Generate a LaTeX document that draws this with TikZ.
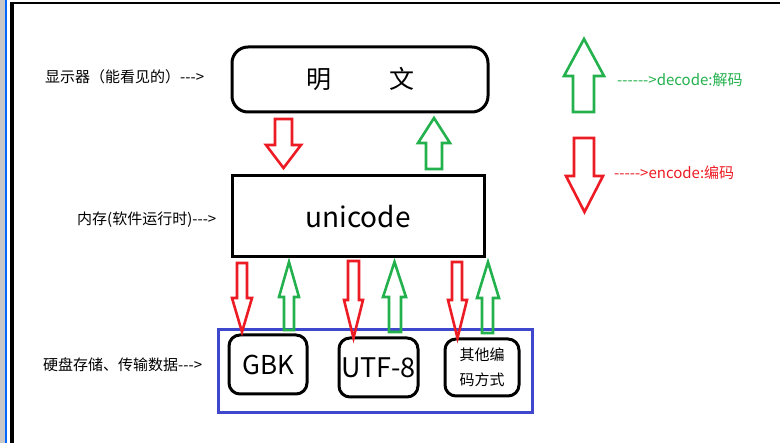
\documentclass[tikz,border=0pt]{standalone}
\usepackage{fontspec}
\setmainfont{Noto Sans CJK SC}
\usepackage{tikz}

\definecolor{pred}{RGB}{237,28,36}
\definecolor{pgreen}{RGB}{34,177,76}
\definecolor{pblue}{RGB}{63,72,204}

% hollow block arrow: style, shaft left/right, head left/right, tail y, head base y, tip y
\newcommand{\barrow}[8]{\draw[#1] (#2,#6) -- (#2,#7) -- (#4,#7) -- ({(#4+#5)/2},#8) -- (#5,#7) -- (#3,#7) -- (#3,#6) -- cycle;}
% plain hyphens, no TeX dash ligatures
\newcommand{\tothe}{-{}-{}-{}>}

\tikzset{
  enc/.style={pred,line width=2.6pt},
  dec/.style={pgreen,line width=2.6pt},
  lbl/.style={anchor=west,inner sep=0pt,font=\fontsize{15}{17}\selectfont},
  codebox/.style={draw,line width=3pt,rounded corners=11pt,inner sep=0pt}
}

\begin{document}
\begin{tikzpicture}[x=1pt,y=-1pt]
\useasboundingbox (0,0) rectangle (780,443);
\fill[white] (0,0) rectangle (780,443);

% window edge
\fill[black!22] (0,0) rectangle (5,443);
\fill[blue!60!cyan] (5,0) rectangle (6.5,443);
\fill (10,2) rectangle (14,443);
\fill (10,2) rectangle (780,4.5);

% layers
\node[draw,line width=3pt,rounded corners=16pt,minimum width=256pt,minimum height=65pt,
  font=\fontsize{25}{28}\selectfont] (display) at (360,79.5) {明\hspace{58pt}文\hspace{34pt}};
\node[draw,line width=3pt,minimum width=252pt,minimum height=81pt,
  font=\fontsize{28}{32}\selectfont] (mem) at (358,216.5) {unicode\hspace{8pt}};
\node[draw=pblue,line width=3pt,minimum width=314pt,minimum height=83pt] (disk) at (375,371.5) {};

\node[codebox,minimum width=78pt,minimum height=59pt,font=\fontsize{26}{30}\selectfont] (gbk) at (268,364.5) {GBK};
\node[codebox,minimum width=79pt,minimum height=59pt,font=\fontsize{27}{30}\selectfont] (utf) at (378.5,367.5) {UTF-8};
\node[codebox,minimum width=74pt,minimum height=57pt,align=center,
  font=\fontsize{15}{25}\selectfont] (other) at (482,367.5) {其他编\\码方式};

% side labels
\node[lbl] (lshow) at (45,77) {显示器（能看见的）\tothe};
\node[lbl] (lmem) at (77,220) {内存(软件运行时)\tothe};
\node[lbl] (ldisk) at (43,365) {硬盘存储、传输数据\tothe};

% legend
\barrow{dec}{573}{594}{564}{604}{112}{76}{39}
\barrow{enc}{574}{594}{566}{603}{138}{176}{212}
\node[lbl,pgreen] (ldec) at (617,80) {-{}-{}-{}-{}-{}->decode:解码};
\node[lbl,pred] (lenc) at (614,173) {-{}-{}-{}-{}->encode:编码};

% display <-> memory
\barrow{enc}{275}{292}{266}{301}{119}{145}{168}
\barrow{dec}{426}{442}{418}{450}{169}{143}{118}

% memory <-> disk
\barrow{enc}{237}{247}{232}{252}{263}{298}{332}
\barrow{dec}{284}{294}{279}{299}{330}{297}{262}
\barrow{enc}{348}{359}{344}{363}{261}{300}{338}
\barrow{dec}{389}{401}{383}{406}{332}{297}{262}
\barrow{enc}{452}{462}{448}{467}{262}{300}{338}
\barrow{dec}{482}{493}{477}{499}{333}{298}{262}
\end{tikzpicture}
\end{document}
